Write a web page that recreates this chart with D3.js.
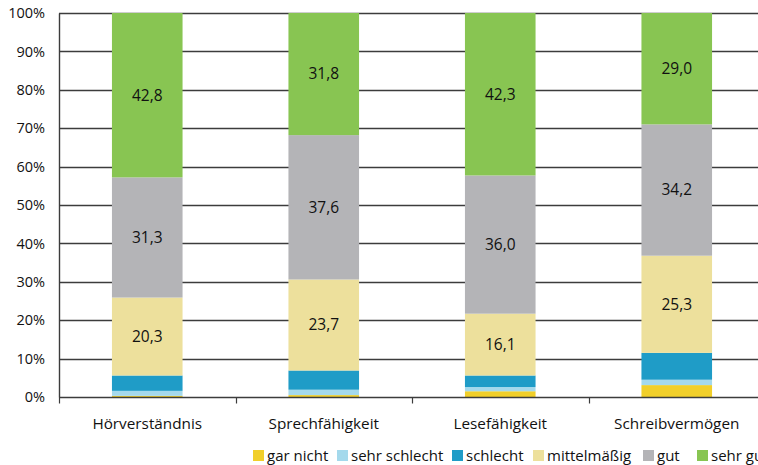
<!DOCTYPE html>
<html>
<head>
<meta charset="utf-8">
<script src="https://cdn.jsdelivr.net/npm/d3@7"></script>
<style>
  html, body { margin: 0; padding: 0; background: #fff; }
  svg { display: block; font-family: "Open Sans", "Noto Sans", sans-serif; }
</style>
</head>
<body>
<svg id="chart" width="758" height="465"></svg>
<script>
// Skills and answer levels (percent of respondents)
const categories = ["Hörverständnis", "Sprechfähigkeit", "Lesefähigkeit", "Schreibvermögen"];
const levels = ["gar nicht", "sehr schlecht", "schlecht", "mittelmäßig", "gut", "sehr gut"];
const garNicht     = [0.3, 0.5, 1.5, 3.1];
const sehrSchlecht = [1.3, 1.4, 1.1, 1.4];
const schlecht     = [4.0, 5.0, 3.0, 7.0];
const mittelmaessig = [20.3, 23.7, 16.1, 25.3];
const gut          = [31.3, 37.6, 36.0, 34.2];
const sehrGut      = [42.8, 31.8, 42.3, 29.0];
const yTicks = [0, 10, 20, 30, 40, 50, 60, 70, 80, 90, 100];
const labelledLevels = ["mittelmäßig", "gut", "sehr gut"];

const colors = {
  "gar nicht": "#f1cf2a",
  "sehr schlecht": "#a4d9ec",
  "schlecht": "#1f9cc7",
  "mittelmäßig": "#ede09c",
  "gut": "#b4b4b7",
  "sehr gut": "#88c552"
};

const seriesValues = [garNicht, sehrSchlecht, schlecht, mittelmaessig, gut, sehrGut];
const rows = categories.map((c, i) => {
  const r = { category: c };
  levels.forEach((l, j) => { r[l] = seriesValues[j][i]; });
  return r;
});

const svg = d3.select("#chart");
const margin = { left: 59, top: 13, bottom: 397, right: 765 };
const textColor = "#111";

const x = d3.scaleBand().domain(categories).range([margin.left, margin.right]).paddingInner(0.6).paddingOuter(0.3);
const y = d3.scaleLinear().domain([0, 100]).range([margin.bottom, margin.top]);

// Horizontal gridlines
svg.append("g").selectAll("line").data(yTicks.filter(t => t > 0)).join("line")
  .attr("x1", margin.left).attr("x2", 758)
  .attr("y1", d => Math.round(y(d)) + 0.5).attr("y2", d => Math.round(y(d)) + 0.5)
  .attr("stroke", "#3c3c3c").attr("stroke-width", 1.4);

// Stacked bars
const stack = d3.stack().keys(levels)(rows);
const layer = svg.append("g").selectAll("g").data(stack).join("g")
  .attr("fill", d => colors[d.key]);
layer.selectAll("rect").data(d => d).join("rect")
  .attr("x", d => x(d.data.category))
  .attr("width", x.bandwidth())
  .attr("y", d => y(d[1]))
  .attr("height", d => y(d[0]) - y(d[1]));

// Value labels on the larger segments
stack.filter(s => labelledLevels.includes(s.key)).forEach(s => {
  svg.append("g").selectAll("text").data(s).join("text")
    .attr("x", d => x(d.data.category) + x.bandwidth() / 2)
    .attr("y", d => (y(d[0]) + y(d[1])) / 2)
    .attr("dy", "0.35em")
    .attr("text-anchor", "middle")
    .attr("font-size", 15.5)
    .attr("fill", textColor)
    .text(d => d3.format(".1f")(d[1] - d[0]).replace(".", ","));
});

// Y axis
const yAxis = d3.axisLeft(y).tickValues(yTicks).tickSize(0).tickPadding(14).tickFormat(d => d + "%");
const gy = svg.append("g").attr("transform", `translate(${margin.left},0)`).call(yAxis);
gy.select(".domain").attr("stroke", "#3c3c3c").attr("stroke-width", 1.4);
gy.selectAll("text").attr("font-size", 14.5).attr("fill", textColor).attr("font-family", "Open Sans, Noto Sans, sans-serif");

// X axis with boundary ticks
const gx = svg.append("g").attr("transform", `translate(0,${margin.bottom + 0.5})`);
gx.append("line").attr("x1", margin.left).attr("x2", 758).attr("stroke", "#3c3c3c").attr("stroke-width", 1.4);
const step = x.step();
const boundaries = d3.range(categories.length + 1).map(i => x(categories[0]) - x.paddingOuter() * step + i * step);
gx.selectAll("line.tick").data(boundaries).join("line").attr("class", "tick")
  .attr("x1", d => Math.round(d) + 0.5).attr("x2", d => Math.round(d) + 0.5)
  .attr("y1", 0).attr("y2", 6).attr("stroke", "#3c3c3c").attr("stroke-width", 1.2);
gx.selectAll("text").data(categories).join("text")
  .attr("x", d => x(d) + x.bandwidth() / 2)
  .attr("y", 31)
  .attr("text-anchor", "middle")
  .attr("font-size", 15.3)
  .attr("fill", textColor)
  .text(d => d);

// Legend
const legendX = [253, 337, 452, 533, 643, 697];
const legend = svg.append("g").selectAll("g").data(levels).join("g")
  .attr("transform", (d, i) => `translate(${legendX[i]},450)`);
legend.append("rect").attr("width", 11).attr("height", 11).attr("fill", d => colors[d]);
legend.append("text").attr("x", 14).attr("y", 10.5).attr("font-size", 15).attr("fill", textColor).text(d => d);
</script>
</body>
</html>
